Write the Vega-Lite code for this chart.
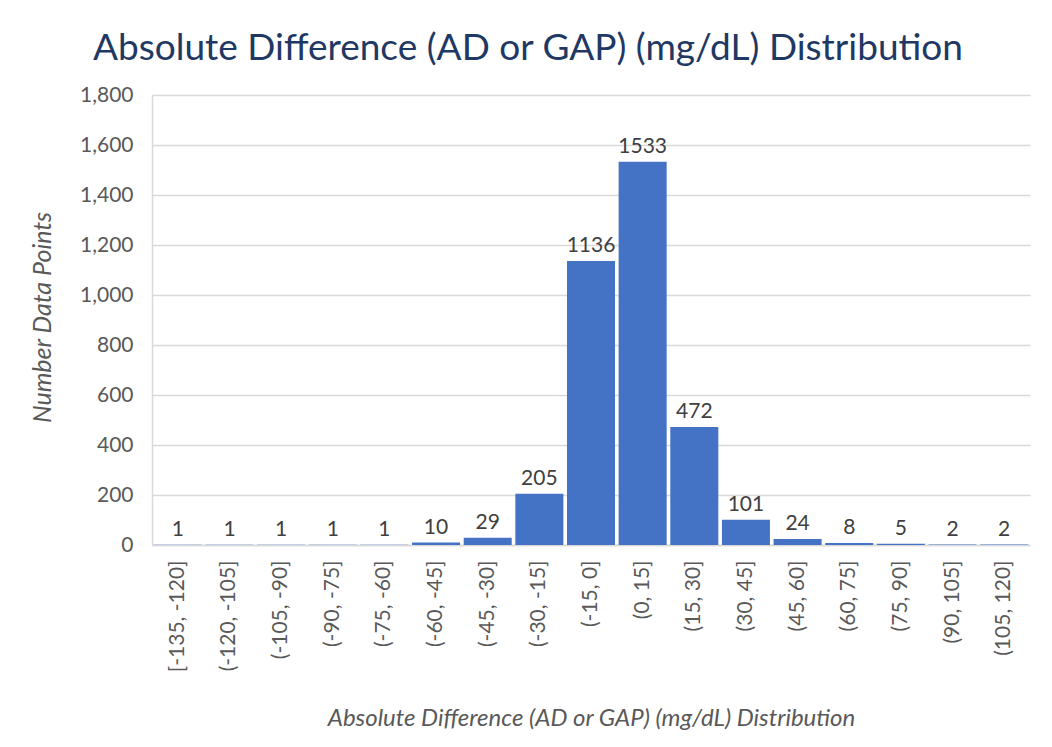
{
  "$schema": "https://vega.github.io/schema/vega-lite/v6.json",
  "autosize": {"type": "none"},
  "width": 878,
  "height": 450,
  "padding": {"left": 152, "top": 95, "right": 22, "bottom": 202},
  "background": "white",
  "title": {
    "text": "Absolute Difference (AD or GAP) (mg/dL) Distribution",
    "font": "Lato",
    "fontSize": 37,
    "fontWeight": "normal",
    "color": "#1F3864",
    "anchor": "middle",
    "dx": -63,
    "offset": 16
  },
  "data": {
    "values": [
      {"bin": "[-135, -120]", "count": 1},
      {"bin": "(-120, -105]", "count": 1},
      {"bin": "(-105, -90]", "count": 1},
      {"bin": "(-90, -75]", "count": 1},
      {"bin": "(-75, -60]", "count": 1},
      {"bin": "(-60, -45]", "count": 10},
      {"bin": "(-45, -30]", "count": 29},
      {"bin": "(-30, -15]", "count": 205},
      {"bin": "(-15, 0]", "count": 1136},
      {"bin": "(0, 15]", "count": 1533},
      {"bin": "(15, 30]", "count": 472},
      {"bin": "(30, 45]", "count": 101},
      {"bin": "(45, 60]", "count": 24},
      {"bin": "(60, 75]", "count": 8},
      {"bin": "(75, 90]", "count": 5},
      {"bin": "(90, 105]", "count": 2},
      {"bin": "(105, 120]", "count": 2}
    ]
  },
  "encoding": {
    "x": {
      "field": "bin",
      "type": "nominal",
      "sort": null,
      "scale": {"paddingInner": 0.07, "paddingOuter": 0.035},
      "axis": {
        "title": "Absolute Difference (AD or GAP) (mg/dL) Distribution",
        "labelAngle": -90,
        "labelFont": "Lato",
        "labelFontSize": 21,
        "labelColor": "#595959",
        "labelPadding": 15,
        "ticks": false,
        "domainColor": "#D9D9D9",
        "domainWidth": 1.5,
        "titleFont": "Lato",
        "titleFontStyle": "italic",
        "titleFontWeight": "normal",
        "titleFontSize": 24,
        "titleColor": "#595959",
        "titleY": 173,
        "titleBaseline": "middle"
      }
    },
    "y": {
      "field": "count",
      "type": "quantitative",
      "scale": {"domain": [0, 1800], "nice": false},
      "axis": {
        "title": "Number Data Points",
        "values": [0, 200, 400, 600, 800, 1000, 1200, 1400, 1600, 1800],
        "format": ",d",
        "labelFont": "Lato",
        "labelFontSize": 21,
        "labelColor": "#595959",
        "labelPadding": 19,
        "ticks": false,
        "domain": true,
        "domainColor": "#D9D9D9",
        "domainWidth": 1.5,
        "gridColor": "#D9D9D9",
        "gridWidth": 1.5,
        "titleFont": "Lato",
        "titleFontStyle": "italic",
        "titleFontWeight": "normal",
        "titleFontSize": 25,
        "titleColor": "#595959",
        "titleX": -110,
        "titleY": 222,
        "titleAlign": "center",
        "titleBaseline": "middle"
      }
    }
  },
  "layer": [
    {"mark": {"type": "bar", "color": "#4472C4"}},
    {
      "mark": {"type": "text", "baseline": "bottom", "dy": -5, "font": "Lato", "fontSize": 21, "color": "#404040"},
      "encoding": {"text": {"field": "count", "type": "quantitative", "format": "d"}}
    }
  ],
  "config": {"view": {"stroke": null}}
}
